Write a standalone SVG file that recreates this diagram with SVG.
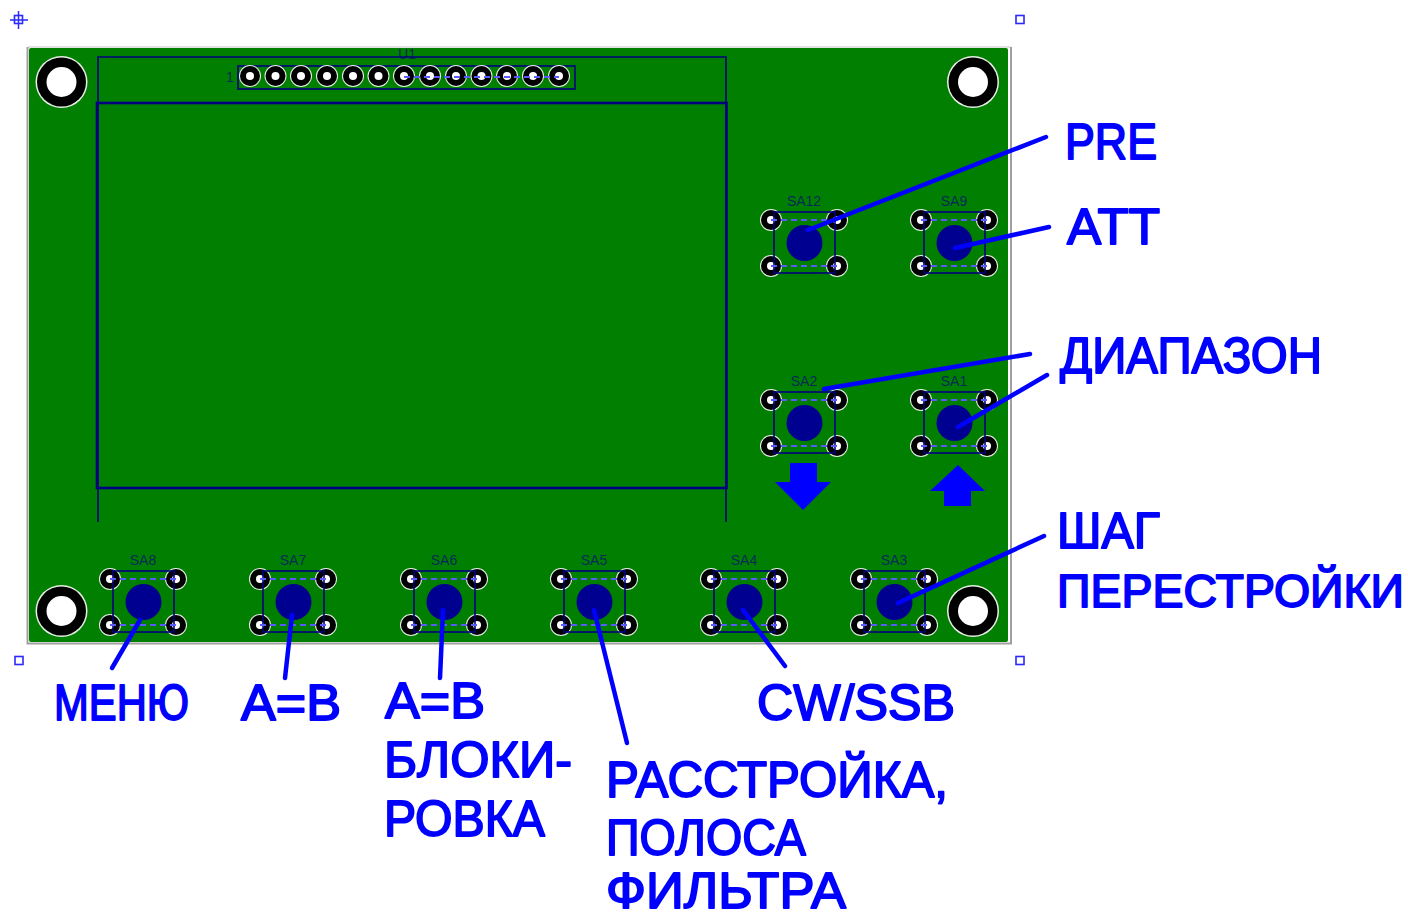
<svg xmlns="http://www.w3.org/2000/svg" xmlns:xlink="http://www.w3.org/1999/xlink" width="1408" height="919" viewBox="0 0 1408 919">
<style>
.ol{fill:none;stroke:#000080}
.dash{fill:none;stroke:#5a5aff;stroke-width:2;stroke-dasharray:6 4}
.lead{fill:none;stroke:#0000ff;stroke-width:4.5;stroke-linecap:round}
.lab{font-family:"Liberation Sans",Arial,sans-serif;font-size:50px;fill:#0000ff;stroke:#0000ff;stroke-width:1.8;stroke-linejoin:round}
.ref{font-family:"Liberation Sans",Arial,sans-serif;font-size:14px;fill:#000080;fill-opacity:.7;text-anchor:middle}
.mk{fill:#fff;stroke:#2a2aff;stroke-width:1.6}
</style>
<defs>
<g id="pad"><circle r="11" fill="#e8f0e8"/><circle r="10" fill="#000"/><circle r="4" fill="#fff"/></g>
<g id="hole"><circle r="26" fill="#e8f0e8"/><circle r="24.500" fill="#000"/><circle r="15" fill="#fff"/></g>
<g id="sw">
<use xlink:href="#pad" x="-33" y="-23"/><use xlink:href="#pad" x="33" y="-23"/>
<use xlink:href="#pad" x="-33" y="23"/><use xlink:href="#pad" x="33" y="23"/>
<rect class="ol" x="-30" y="-31" width="61" height="61" stroke-width="1.6"/>
<path class="dash" d="M-33-23H33M-33 23H33"/>
<circle cx="0.5" cy="0" r="18" fill="#000090"/>
</g>
</defs>
<rect width="1408" height="919" fill="#fff"/>
<g id="board">
<path fill="none" stroke="#d8d8d8" stroke-width="1.500" d="M28 47H1011"/>
<path fill="none" stroke="#a0a0a0" stroke-width="2" d="M27.500 47V643.500H1011V47"/>
<rect x="29" y="48" width="979" height="594" rx="2" fill="#007f00"/>
</g>
<g id="holes">
<use xlink:href="#hole" x="61.500" y="82"/><use xlink:href="#hole" x="973" y="82"/>
<use xlink:href="#hole" x="61.500" y="611"/><use xlink:href="#hole" x="973" y="611"/>
</g>
<g id="U1">
<path class="ol" stroke-width="1.6" d="M98 522V57H726V522"/>
<rect class="ol" x="97" y="103" width="629.500" height="385" stroke-width="2.600"/>
<rect class="ol" x="238" y="66" width="337" height="23" stroke-width="1.600"/>
<use xlink:href="#pad" x="250" y="76"/><use xlink:href="#pad" x="275.500" y="76"/><use xlink:href="#pad" x="301" y="76"/><use xlink:href="#pad" x="327" y="76"/><use xlink:href="#pad" x="353" y="76"/><use xlink:href="#pad" x="378.500" y="76"/><use xlink:href="#pad" x="404" y="76"/><use xlink:href="#pad" x="430" y="76"/><use xlink:href="#pad" x="456" y="76"/><use xlink:href="#pad" x="481.500" y="76"/><use xlink:href="#pad" x="507" y="76"/><use xlink:href="#pad" x="533" y="76"/><use xlink:href="#pad" x="559" y="76"/>
<path class="dash" d="M404 77H559"/>
<text class="ref" x="407" y="59">U1</text>
<text class="ref" x="230" y="82">1</text>
</g>
<g id="SA12"><use xlink:href="#sw" x="804" y="243"/><text class="ref" x="804" y="206">SA12</text></g>
<g id="SA9"><use xlink:href="#sw" x="954" y="243"/><text class="ref" x="954" y="206">SA9</text></g>
<g id="SA2"><use xlink:href="#sw" x="804" y="423"/><text class="ref" x="804" y="386">SA2</text></g>
<g id="SA1"><use xlink:href="#sw" x="954" y="423"/><text class="ref" x="954" y="386">SA1</text></g>
<g id="SA8"><use xlink:href="#sw" x="143" y="602"/><text class="ref" x="143" y="565">SA8</text></g>
<g id="SA7"><use xlink:href="#sw" x="293" y="602"/><text class="ref" x="293" y="565">SA7</text></g>
<g id="SA6"><use xlink:href="#sw" x="444" y="602"/><text class="ref" x="444" y="565">SA6</text></g>
<g id="SA5"><use xlink:href="#sw" x="594" y="602"/><text class="ref" x="594" y="565">SA5</text></g>
<g id="SA4"><use xlink:href="#sw" x="744" y="602"/><text class="ref" x="744" y="565">SA4</text></g>
<g id="SA3"><use xlink:href="#sw" x="894" y="602"/><text class="ref" x="894" y="565">SA3</text></g>
<g id="arrow-down"><polygon fill="#0000ff" points="790,463 817,463 817,482 831,482 803,510 775,482 790,482"/></g>
<g id="arrow-up"><polygon fill="#0000ff" points="958,465 985,491 971,491 971,506 944,506 944,491 930,491"/></g>
<g id="markers">
<path fill="none" stroke="#2a2aff" stroke-width="1.500" d="M10 20H28M18.500 11V29"/>
<rect class="mk" x="14.500" y="15.500" width="8" height="8" fill-opacity="0"/>
<rect class="mk" x="1016" y="15.500" width="8" height="8"/>
<rect class="mk" x="15" y="656.500" width="8" height="8"/>
<rect class="mk" x="1016" y="656.500" width="8" height="8"/>
</g>
<g id="connectors">
<path class="lead" d="M1046 137L808 230"/>
<path class="lead" d="M1049 227L955 248"/>
<path class="lead" d="M1030 354L824 389"/>
<path class="lead" d="M1047 375L958 427"/>
<path class="lead" d="M1044 536L898 603"/>
<path class="lead" d="M112 668L140 620"/>
<path class="lead" d="M285 678L292 615"/>
<path class="lead" d="M440 678L443 610"/>
<path class="lead" d="M627 743L594 610"/>
<path class="lead" d="M785 666L743 610"/>
</g>
<g id="labels">
<text class="lab" x="1065" y="159" textLength="92" lengthAdjust="spacingAndGlyphs">PRE</text>
<text class="lab" x="1067" y="244" textLength="93" lengthAdjust="spacingAndGlyphs">ATT</text>
<text class="lab" x="1060" y="373" textLength="262" lengthAdjust="spacingAndGlyphs">ДИАПАЗОН</text>
<text class="lab" x="1057" y="548" textLength="103" lengthAdjust="spacingAndGlyphs">ШАГ</text>
<text class="lab" x="1057" y="607" font-size="47" style="font-size:47px" textLength="347" lengthAdjust="spacingAndGlyphs">ПЕРЕСТРОЙКИ</text>
<text class="lab" x="54" y="720" textLength="135" lengthAdjust="spacingAndGlyphs">МЕНЮ</text>
<text class="lab" x="241" y="720" textLength="100" lengthAdjust="spacingAndGlyphs">A=B</text>
<text class="lab" x="385" y="718" textLength="100" lengthAdjust="spacingAndGlyphs">A=B</text>
<text class="lab" x="384" y="777" textLength="188" lengthAdjust="spacingAndGlyphs">БЛОКИ-</text>
<text class="lab" x="384" y="836" textLength="161" lengthAdjust="spacingAndGlyphs">РОВКА</text>
<text class="lab" x="757" y="720" textLength="198" lengthAdjust="spacingAndGlyphs">CW/SSB</text>
<text class="lab" x="606" y="797" textLength="342" lengthAdjust="spacingAndGlyphs">РАССТРОЙКА,</text>
<text class="lab" x="606" y="855" textLength="200" lengthAdjust="spacingAndGlyphs">ПОЛОСА</text>
<text class="lab" x="606" y="908" textLength="240" lengthAdjust="spacingAndGlyphs">ФИЛЬТРА</text>
</g>
</svg>
